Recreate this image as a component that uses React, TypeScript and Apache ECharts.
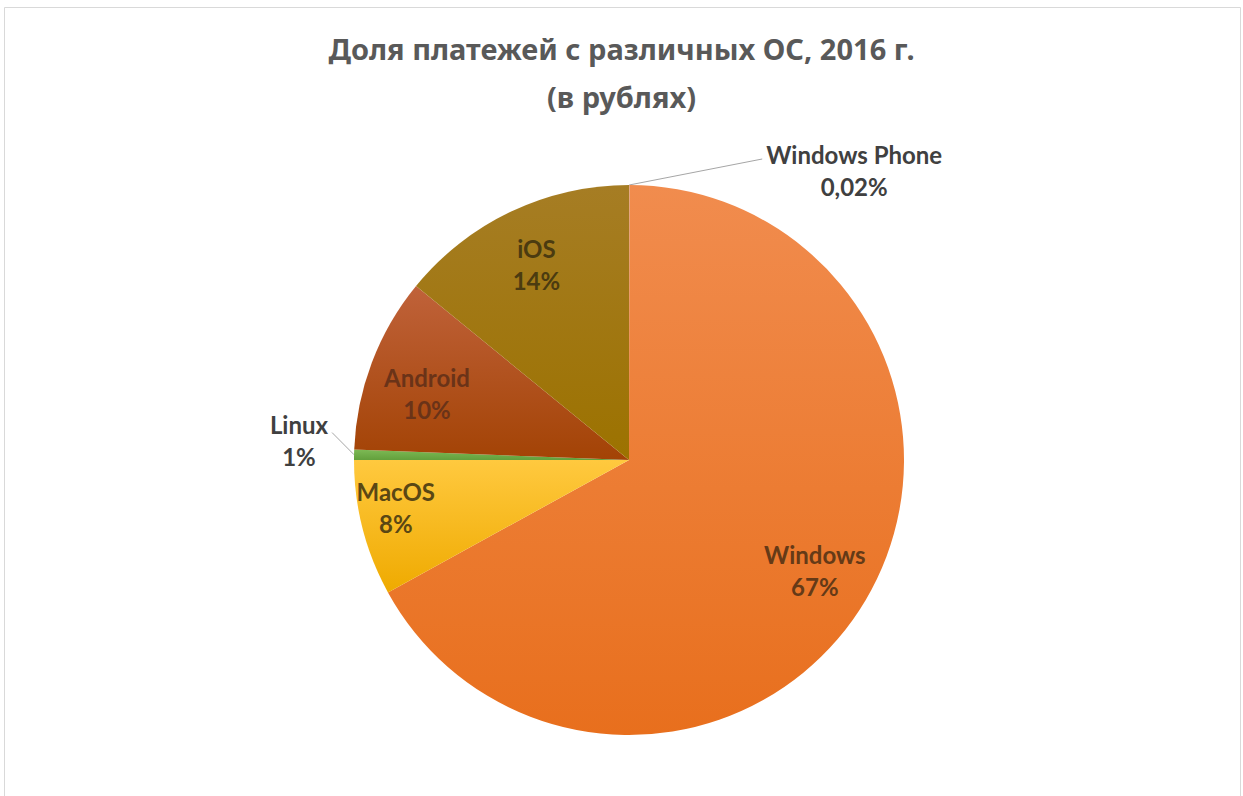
import React, { useEffect, useRef } from 'react';
import * as echarts from 'echarts';

const titleText = 'Доля платежей с различных ОС, 2016 г.\n(в рублях)';
const categories = ['Windows Phone', 'Windows', 'MacOS', 'Linux', 'Android', 'iOS'];
const shares = [0.02, 67, 8, 0.6, 10.3, 14.1];
const sliceTop = ['#6FA0DC', '#F18C4E', '#FFC93F', '#7DBA55', '#C0623A', '#A67D24'];
const sliceBottom = ['#4472C4', '#E86F1D', '#EFAA00', '#63A03C', '#A34305', '#9C7200'];
const labelColors = ['#404040', '#653a17', '#5a4714', '#404040', '#6a3318', '#4b3b10'];
const outsideIdx = [0, 3];

function pct(v: number): string {
  return v < 0.1 ? v.toFixed(2).replace('.', ',') + '%' : Math.round(v) + '%';
}

const CENTER = [629, 460];
const R = 275;

export default function App() {
  const ref = useRef<HTMLDivElement>(null);
  useEffect(() => {
    if (!ref.current) return;
    const chart = echarts.init(ref.current, null, { renderer: 'svg' });
    const richA = {
      a: { align: 'center', fontFamily: 'Lato', fontWeight: 'bold', fontSize: 24, lineHeight: 32 },
    };
    const fmt = (p: any) => `{a|${p.name}}\n{a|${pct(p.value)}}`;
    const mainData = categories.map((name, i) => {
      const out = outsideIdx.includes(i);
      return {
        name,
        value: shares[i],
        itemStyle: {
          color: new echarts.graphic.LinearGradient(0, 0, 0, 1, [
            { offset: 0, color: sliceTop[i] },
            { offset: 1, color: sliceBottom[i] },
          ]),
        },
        label: { show: out, color: labelColors[i] },
        labelLine: {
          show: out,
          length: i === 0 ? 26 : 8,
          length2: i === 0 ? 133 : 14,
        },
      };
    });
    const overlayData = categories.map((name, i) => ({
      name,
      value: shares[i],
      label: { show: !outsideIdx.includes(i), color: labelColors[i] },
    }));
    chart.setOption({
      animation: false,
      backgroundColor: '#ffffff',
      title: {
        text: titleText,
        left: 'center',
        top: 19,
        textStyle: {
          fontFamily: 'Noto Sans',
          fontWeight: 'bold',
          fontSize: 29,
          lineHeight: 48,
          color: '#595959',
        },
      },
      graphic: [
        {
          type: 'rect',
          silent: true,
          shape: { x: 4.5, y: 7.5, width: 1236, height: 800 },
          style: { fill: 'none', stroke: '#d9d9d9', lineWidth: 1 },
        },
      ],
      series: [
        {
          type: 'pie',
          center: CENTER,
          radius: R,
          startAngle: 90,
          clockwise: true,
          avoidLabelOverlap: false,
          emphasis: { disabled: true },
          itemStyle: { borderWidth: 0 },
          label: { position: 'outside', formatter: fmt, rich: richA, distanceToLabelLine: 4 },
          labelLine: { lineStyle: { color: '#a6a6a6', width: 1 } },
          labelLayout: (p: any) => {
            const pts = p.labelLinePoints;
            if (!pts) return {};
            if (p.dataIndex === 0) {
              return { dy: 11, labelLinePoints: [pts[0], pts[2]] };
            }
            if (p.dataIndex === 3) {
              return { dy: -14, labelLinePoints: [pts[0], [pts[2][0], pts[2][1] - 22]] };
            }
            return {};
          },
          data: mainData,
        },
        {
          type: 'pie',
          center: CENTER,
          radius: [151, R],
          startAngle: 90,
          clockwise: true,
          silent: true,
          avoidLabelOverlap: false,
          emphasis: { disabled: true },
          itemStyle: { color: 'rgba(0,0,0,0)', borderWidth: 0 },
          label: { position: 'inside', formatter: fmt, rich: richA },
          labelLine: { show: false },
          labelLayout: (p: any) => {
            if (p.dataIndex === 2) return { dx: -24, dy: -6 };
            if (p.dataIndex === 4) return { dy: 10 };
            return {};
          },
          data: overlayData,
        },
      ],
    });
    return () => chart.dispose();
  }, []);
  return (
    <div
      ref={ref}
      style={{ position: 'absolute', left: 0, top: 0, width: 1243, height: 796 }}
    />
  );
}
